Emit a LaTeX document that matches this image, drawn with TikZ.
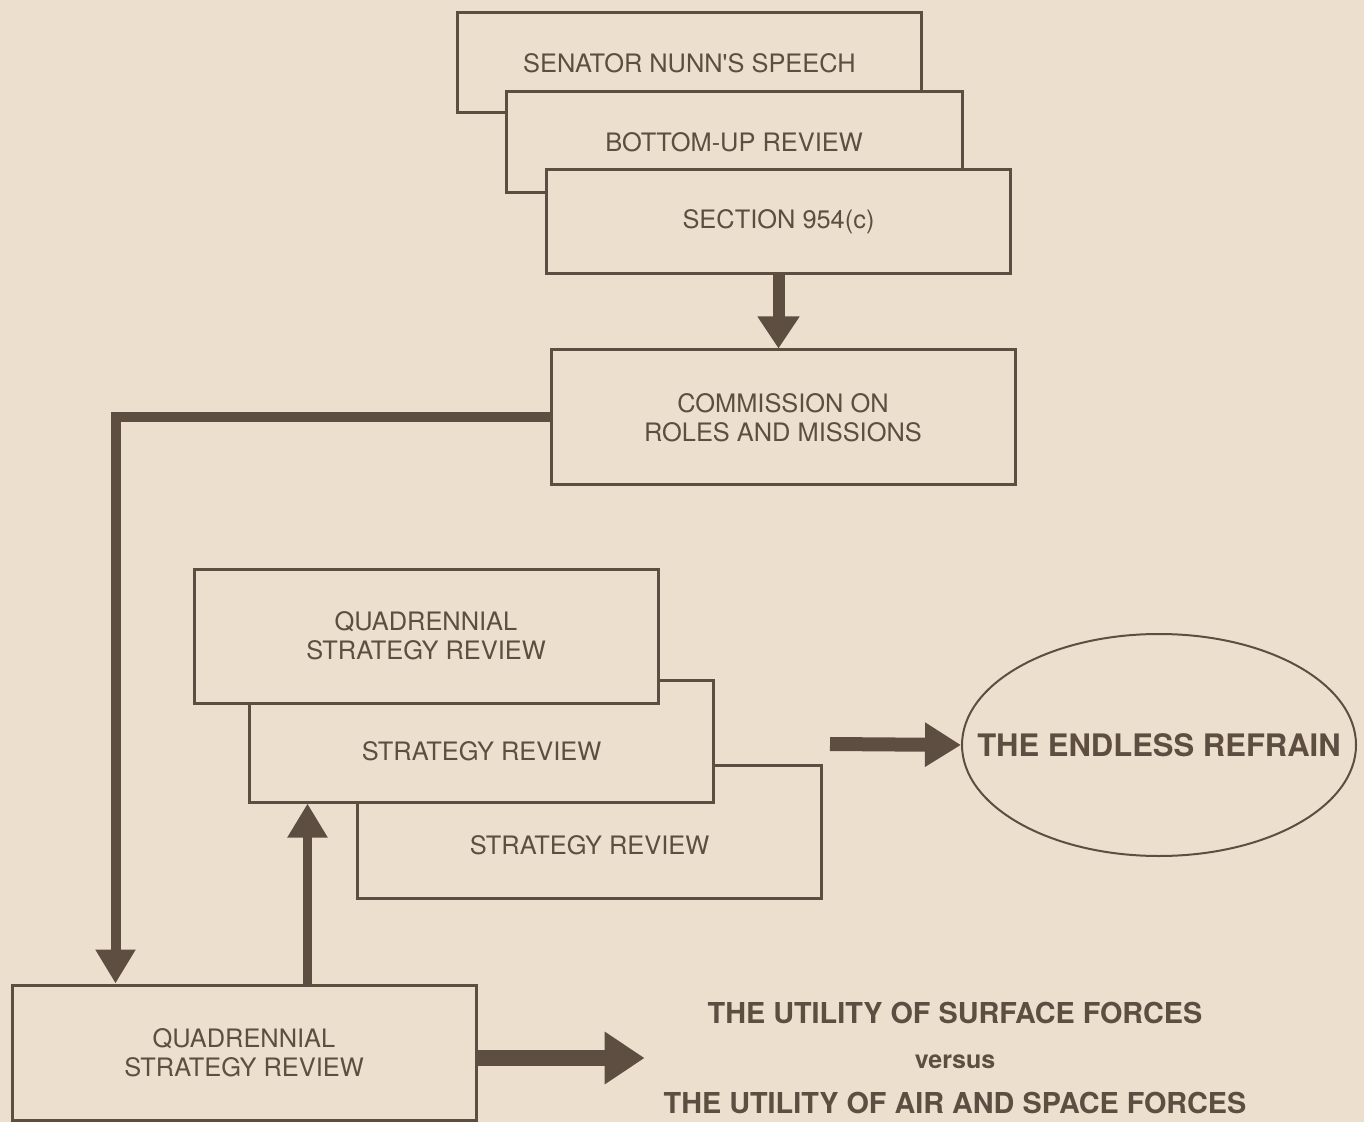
\documentclass[tikz,border=0pt]{standalone}
\usepackage{fontspec}
\setmainfont{TeX Gyre Heros}
\usetikzlibrary{arrows.meta,shapes.geometric}
\definecolor{paper}{HTML}{EDDFCD}
\definecolor{ink}{HTML}{5E4E42}
\begin{document}
\begin{tikzpicture}[
            x=0.5pt, y=-0.5pt,
            every node/.style={align=center, text=ink, font=\fontsize{12.7}{14.5}\selectfont},
            review/.style={draw=ink, fill=paper, line width=1.5pt, minimum width=232pt, inner sep=0pt},
            fatarrow/.style={draw=ink, line width=5pt, -{Triangle[width=20pt,length=16pt]}}
            ]
            \fill[paper] (0,0) rectangle (1364,1122);
            \useasboundingbox (0,0) rectangle (1364,1122);
            \node[review, minimum height=50pt] (senator) at (689.5,63) {SENATOR NUNN\textquotesingle S SPEECH};
            \node[review, minimum width=228pt, minimum height=50.5pt] (bottomup) at (734,142.5) {BOTTOM-UP REVIEW};
            \node[review, minimum height=52pt] (section) at (778.5,222) {SECTION 954(c)};
            \node[review, minimum height=67.5pt] (commission) at (783,417.5) {COMMISSION ON\\ROLES AND MISSIONS};
            \node[review, minimum height=66.5pt, label={[yshift=-7pt]center:STRATEGY REVIEW}] (srlow) at (589.5,831.5) {};
            \node[review, minimum height=61pt, label={[yshift=-5pt]center:STRATEGY REVIEW}] (srmid) at (481.5,741) {};
            \node[review, minimum height=67pt] (qsrtop) at (426,636) {QUADRENNIAL\\STRATEGY REVIEW};
            \node[review, minimum height=67.5pt] (qsr) at (244,1052.5) {QUADRENNIAL\\STRATEGY REVIEW};
            \node[ellipse, draw=ink, line width=1pt, minimum width=197pt, minimum height=111pt, inner sep=0pt,
                label={[font=\bfseries\fontsize{15.5}{18}\selectfont]center:THE ENDLESS REFRAIN}] (refrain) at (1159,745) {};
            \node[font=\bfseries\fontsize{14.4}{22.5}\selectfont] (utility) at (955,1058)
                {THE UTILITY OF SURFACE FORCES\\{\fontsize{12.5}{22.5}\selectfont versus}\\THE UTILITY OF AIR AND SPACE FORCES};
            \coordinate (refrainin) at (830,744);
            \draw[fatarrow, line width=6pt, -{Triangle[width=20pt,length=16pt]}] (section.south) -- (section.south |- commission.north);
            \draw[fatarrow, line join=miter, -{Triangle[width=19pt,length=17pt]}] (commission.west) -| ([xshift=52.5pt]qsr.north west);
            \draw[fatarrow, line width=4.5pt, -{Triangle[width=19pt,length=17pt]}] ([xshift=148.5pt]qsr.north west) -- ([xshift=148.5pt]qsr.north west |- srmid.south);
            \draw[fatarrow, line width=7pt, -{Triangle[width=21pt,length=18pt]}] (refrainin) -- (refrain.west);
            \draw[fatarrow, line width=8pt, shorten >=6pt, -{Triangle[width=25pt,length=20pt]}] (qsr.east |- utility.west) -- (utility.west);
\end{tikzpicture}
\end{document}
